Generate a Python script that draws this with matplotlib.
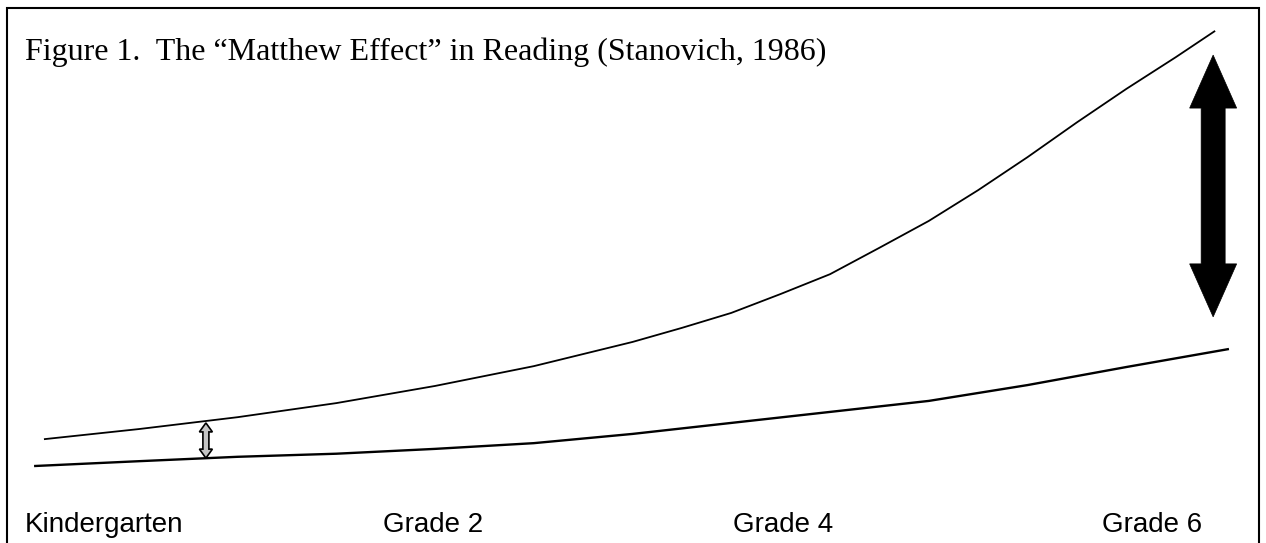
import matplotlib
matplotlib.use("Agg")
import matplotlib.pyplot as plt
from matplotlib.patches import Polygon, Rectangle

# Reading level by grade
grades = [0.02, 0.5, 1.0, 1.5, 2.0, 2.5, 3.0, 3.25, 3.5, 3.75, 4.0, 4.25,
          4.5, 4.75, 5.0, 5.25, 5.5, 5.75, 5.95]
good_readers = [0.70, 0.93, 1.20, 1.52, 1.91, 2.36, 2.91, 3.23, 3.57, 4.00,
                4.45, 5.05, 5.66, 6.36, 7.11, 7.90, 8.66, 9.38, 9.98]

grades_low = [-0.03, 0.5, 1.0, 1.5, 2.0, 2.5, 3.0, 3.5, 4.0, 4.5, 5.0, 5.5, 6.02]
poor_readers = [0.09, 0.20, 0.30, 0.37, 0.48, 0.61, 0.82, 1.07, 1.32, 1.57, 1.93, 2.34, 2.75]

# gap arrows: (grade, bottom level, top level)
gap_start = (0.84, 0.27, 1.07)
gap_end = (5.94, 3.48, 9.43)

tick_labels = ["Kindergarten", "Grade 2", "Grade 4", "Grade 6"]
tick_pos = [-0.076, 1.737, 3.509, 5.377]

title = "Figure 1.  The \u201cMatthew Effect\u201d in Reading (Stanovich, 1986)"

W, H = 1266, 543
fig = plt.figure(figsize=(W / 100, H / 100), dpi=100)
ax = fig.add_axes([0, 0, 1, 1])
ax.set_xlim(-40 / 197.5, (W - 40) / 197.5)
ax.set_ylim((470 - H) / 44, 470 / 44)
ax.axis("off")

ax.plot(grades, good_readers, color="black", lw=1.3,
        solid_capstyle="butt", solid_joinstyle="round")
ax.plot(grades_low, poor_readers, color="black", lw=1.7,
        solid_capstyle="butt", solid_joinstyle="round")


def double_arrow(x, y0, y1, shaft, head_w, head_l, **kw):
    # widths in pixels, ends in data units
    cx, by = ax.transData.transform((x, y0))
    _, ty = ax.transData.transform((x, y1))
    s, h = shaft / 2, head_w / 2
    pts = [
        (cx, ty), (cx + h, ty - head_l), (cx + s, ty - head_l),
        (cx + s, by + head_l), (cx + h, by + head_l), (cx, by),
        (cx - h, by + head_l), (cx - s, by + head_l), (cx - s, ty - head_l),
        (cx - h, ty - head_l),
    ]
    fig.patches.append(Polygon(pts, closed=True, transform=None, **kw))


double_arrow(*gap_start, shaft=6, head_w=13, head_l=9,
             facecolor="#c4c4c4", edgecolor="black", lw=1.2)
double_arrow(*gap_end, shaft=24, head_w=47, head_l=53,
             facecolor="black", edgecolor="black", lw=0.5)

for lab, x in zip(tick_labels, tick_pos):
    ax.text(x, (470 - 532) / 44, lab, ha="left", va="baseline",
            fontsize=20, family="Liberation Sans")

fig.text(25 / W, 1 - 60 / H, title, ha="left", va="baseline",
         fontsize=23, family="Liberation Serif")

# frame around the figure
fig.patches.append(Rectangle((7 / W, -0.01), (1259 - 7) / W, 1.01 - 8 / H,
                             transform=fig.transFigure, fill=False,
                             edgecolor="black", lw=1.5))

fig.savefig("out.png", dpi=100)
